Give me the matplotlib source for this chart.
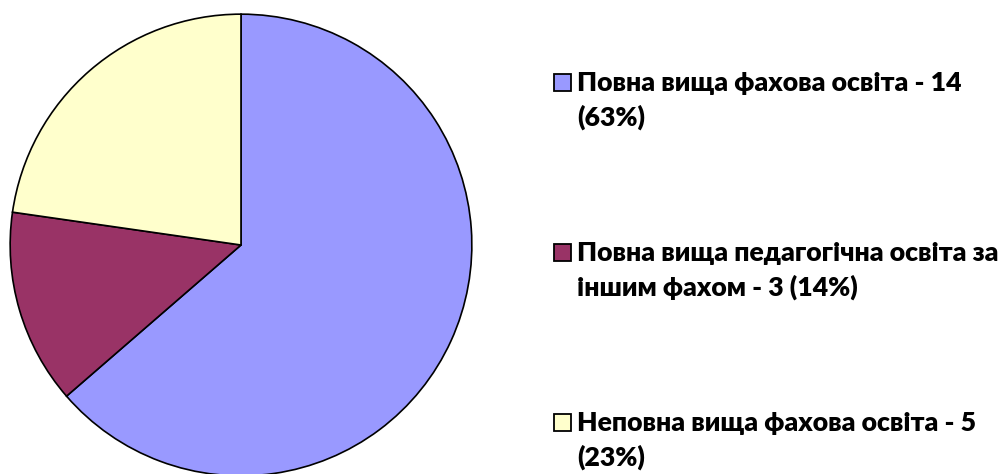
import matplotlib
matplotlib.use("Agg")
import matplotlib.pyplot as plt
from matplotlib.patches import Rectangle

# Data
categories = [
    "Повна вища фахова освіта - 14\n(63%)",
    "Повна вища педагогічна освіта за\nіншим фахом - 3 (14%)",
    "Неповна вища фахова освіта - 5\n(23%)",
]
values = [14, 3, 5]
colors = ["#9999FF", "#993366", "#FFFFCC"]

W, H = 1007, 474
fig = plt.figure(figsize=(W / 100, H / 100), dpi=100)
fig.patch.set_facecolor("white")

cx, cy, r = 241, 245, 232
ax = fig.add_axes([(cx - r) / W, (H - cy - r) / H, 2 * r / W, 2 * r / H])
ax.pie(values, colors=colors, startangle=90, counterclock=False, radius=1,
       wedgeprops=dict(edgecolor="black", linewidth=1.2))
ax.set_xlim(-1.005, 1.005)
ax.set_ylim(-1.005, 1.005)
ax.set_aspect("auto")
ax.axis("off")

# Legend (manual, handle aligned to first line like Excel)
fam = ["Lato", "DejaVu Sans"]
first_top = [74, 244, 414]
for i, (lab, col) in enumerate(zip(categories, colors)):
    top = first_top[i]
    sq = 17
    fig.add_artist(Rectangle((554 / W, (H - top - sq) / H), sq / W, sq / H,
                             transform=fig.transFigure, facecolor=col,
                             edgecolor="black", linewidth=1.3))
    fig.text(577 / W, (H - top + 3) / H, lab, transform=fig.transFigure,
             ha="left", va="top", fontsize=19.2, fontweight="heavy",
             family=fam, linespacing=1.44, color="black")

fig.savefig("out.png", dpi=100, facecolor="white")
